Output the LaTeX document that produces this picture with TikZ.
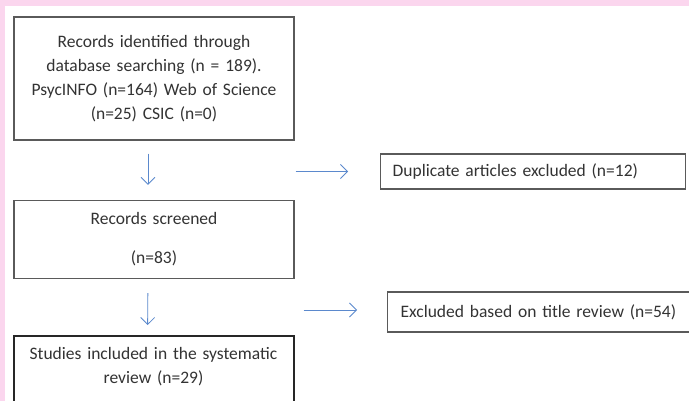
\documentclass[tikz,border=0pt]{standalone}
\usepackage{fontspec}
\setmainfont{Carlito}
\usetikzlibrary{arrows.meta}
\definecolor{pinkbg}{RGB}{251,214,238}
\definecolor{arrowblue}{RGB}{91,137,205}
\definecolor{boxgray}{RGB}{90,90,90}

\begin{document}
\begin{tikzpicture}[x=1pt, y=-1pt,
  every node/.style={font=\fontsize{17.5}{24}\selectfont, text=black!80},
  stagebox/.style={draw=boxgray, line width=1.3pt, fill=white, align=center,
    text width=260pt, inner xsep=10pt, inner ysep=11pt},
  finalbox/.style={stagebox, draw=black!85, line width=2pt},
  sidebox/.style={draw=boxgray, line width=1.3pt, fill=white, align=left,
    inner xsep=12pt},
  flow/.style={draw=arrowblue, line width=0.8pt,
    -{Straight Barb[length=7pt, width=14pt]}}]
% Page
\useasboundingbox (0,0) rectangle (689,401);
\clip (0,0) rectangle (689,401);
\fill[pinkbg] (0,0) rectangle (689,401);
\fill[white] (5,6) rectangle (689,401);
% Main column
\node[stagebox, minimum height=123pt] (ident) at (154,78.5)
  {Records identified through\\database searching (n = 189).\\PsycINFO (n=164) Web of Science\\(n=25) CSIC (n=0)};
\node[stagebox, minimum height=78pt] (screen) at (154,239.5)
  {Records screened\\[15pt](n=83)};
\node[finalbox, anchor=north, text depth=40pt] (incl) at (153.5,335)
  {Studies included in the systematic\\review (n=29)};
% Exclusions
\node[sidebox, text width=281pt, minimum height=35pt, anchor=west] (dup) at (380,171.5)
  {Duplicate articles excluded (n=12)};
\node[sidebox, text width=300pt, minimum height=40pt, anchor=west, inner xsep=13pt] (excl) at (387,312)
  {Excluded based on title review (n=54)};
% Arrows
\draw[flow, shorten <=13pt, shorten >=15pt] ([xshift=-6pt]ident.south) -- ([xshift=-6pt]screen.north);
\draw[flow, shorten <=14pt, shorten >=10pt] ([xshift=-6pt]screen.south) -- ([xshift=-6pt]incl.north);
\draw[flow, shorten <=1pt, shorten >=32pt] (dup.west -| ident.east) -- (dup.west);
\draw[flow, shorten <=9pt, shorten >=30pt] ([yshift=2pt]excl.west -| screen.east) -- ([yshift=2pt]excl.west);
\end{tikzpicture}
\end{document}
